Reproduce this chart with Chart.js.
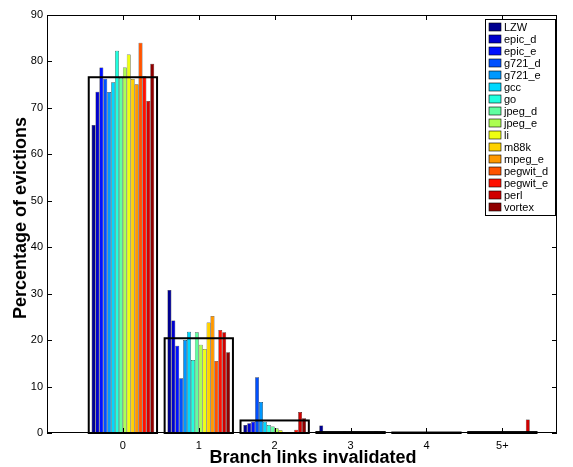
<!DOCTYPE html>
<html>
<head>
<meta charset="utf-8">
<title>Branch links invalidated</title>
<script src="https://cdn.jsdelivr.net/npm/chart.js@4.4.0/dist/chart.umd.min.js"></script>
<style>
    html, body { margin: 0; padding: 0; background: #fff; }
    #wrap { width: 573px; height: 467px; }
</style>
</head>
<body>
<div id="wrap"><canvas id="chart"></canvas></div>
<script>
// --- DATOS ---
const categories = ['0', '1', '2', '3', '4', '5+'];
const benchmarks = ['LZW', 'epic_d', 'epic_e', 'g721_d', 'g721_e', 'gcc', 'go', 'jpeg_d',
                    'jpeg_e', 'li', 'm88k', 'mpeg_e', 'pegwit_d', 'pegwit_e', 'perl', 'vortex'];

// porcentaje de evictions por numero de links invalidados (0, 1, 2, 3, 4, 5+)
const LZW      = [66.3, 30.8,  1.7, 1.6, 0.0, 0.0];
const epic_d   = [73.5, 24.2,  2.1, 0.1, 0.0, 0.0];
const epic_e   = [78.7, 18.8,  2.4, 0.1, 0.0, 0.0];
const g721_d   = [76.3, 11.8, 12.0, 0.0, 0.0, 0.0];
const g721_e   = [73.4, 20.0,  6.7, 0.0, 0.0, 0.0];
const gcc      = [75.5, 21.8,  2.4, 0.2, 0.1, 0.1];
const go       = [82.3, 15.7,  1.7, 0.3, 0.1, 0.0];
const jpeg_d   = [76.5, 21.7,  1.4, 0.0, 0.0, 0.0];
const jpeg_e   = [78.7, 19.0,  1.0, 0.0, 0.0, 0.0];
const li       = [81.5, 18.1,  0.6, 0.0, 0.0, 0.0];
const m88k     = [76.2, 23.8,  0.2, 0.0, 0.0, 0.0];
const mpeg_e   = [75.1, 25.2,  0.1, 0.0, 0.0, 0.0];
const pegwit_d = [84.0, 15.5,  0.2, 0.1, 0.0, 0.0];
const pegwit_e = [76.8, 22.2,  0.7, 0.1, 0.1, 0.1];
const perl     = [71.5, 21.7,  4.5, 0.3, 0.1, 2.9];
const vortex   = [79.5, 17.4,  3.2, 0.0, 0.0, 0.0];
// media (caja negra)
const average  = [76.6, 20.4,  2.7, 0.2, 0.1, 0.2];

const seriesValues = [LZW, epic_d, epic_e, g721_d, g721_e, gcc, go, jpeg_d,
                      jpeg_e, li, m88k, mpeg_e, pegwit_d, pegwit_e, perl, vortex];

const yTicks = [0, 10, 20, 30, 40, 50, 60, 70, 80, 90];

// colores tipo "jet"
const colors = ['#00008f', '#0000cc', '#0010ff', '#0050ff', '#0098ff', '#00d8ff', '#20ffdf', '#60ffa0',
                '#acff52', '#efff10', '#ffd200', '#ff9800', '#ff5400', '#ff1000', '#d00000', '#8f0000'];

const FONT = '"Liberation Sans", Arial, Helvetica, sans-serif';

const toPoints = arr => arr.map((v, i) => ({ x: i, y: v }));

// la caja de la media: sin relleno, el contorno se pinta en el plugin
const datasets = [{
    label: 'average',
    data: toPoints(average),
    grouped: false,
    backgroundColor: 'rgba(0,0,0,0)',
    borderWidth: 0,
    categoryPercentage: 1,
    barPercentage: 0.9
}].concat(seriesValues.map((vals, i) => ({
    label: benchmarks[i],
    data: toPoints(vals),
    backgroundColor: colors[i],
    borderColor: '#000',
    borderWidth: 0.5,
    categoryPercentage: 0.825,
    barPercentage: 1
})));

// marco, ticks hacia dentro, cajas de media, leyenda y titulos de ejes
const framePlugin = {
    id: 'frame',
    afterDatasetsDraw(chart) {
        const { ctx, chartArea: a, scales: { x, y } } = chart;
        ctx.save();

        // contorno de la media (centrado en el borde, como en matlab)
        ctx.strokeStyle = '#000';
        ctx.lineWidth = 2;
        chart.getDatasetMeta(0).data.forEach(bar => {
            const { x: bx, y: by, base, width } = bar.getProps(['x', 'y', 'base', 'width'], true);
            ctx.strokeRect(bx - width / 2, by, width, base - by);
        });

        ctx.lineWidth = 1;
        ctx.strokeRect(a.left + 0.5, a.top + 0.5, a.right - a.left - 1, a.bottom - a.top - 1);

        const tl = 5;
        ctx.beginPath();
        yTicks.forEach(t => {
            const py = Math.round(y.getPixelForValue(t)) + 0.5;
            ctx.moveTo(a.left, py); ctx.lineTo(a.left + tl, py);
            ctx.moveTo(a.right, py); ctx.lineTo(a.right - tl, py);
        });
        categories.forEach((c, i) => {
            const px = Math.round(x.getPixelForValue(i)) + 0.5;
            ctx.moveTo(px, a.bottom); ctx.lineTo(px, a.bottom - tl);
            ctx.moveTo(px, a.top); ctx.lineTo(px, a.top + tl);
        });
        ctx.stroke();

        // leyenda
        const lx = 485, ly = 19, lw = 70, rowH = 12;
        const lh = benchmarks.length * rowH + 4;
        ctx.fillStyle = '#fff';
        ctx.fillRect(lx, ly, lw, lh);
        ctx.strokeRect(lx + 0.5, ly + 0.5, lw, lh);
        ctx.font = '11px ' + FONT;
        ctx.textBaseline = 'middle';
        benchmarks.forEach((name, i) => {
            const cy = ly + 8 + i * rowH;
            ctx.fillStyle = colors[i];
            ctx.fillRect(lx + 4, cy - 4, 12, 8);
            ctx.lineWidth = 0.6;
            ctx.strokeRect(lx + 4, cy - 4, 12, 8);
            ctx.fillStyle = '#000';
            ctx.fillText(name, lx + 19, cy + 0.5);
        });
        ctx.restore();
    },
    afterDraw(chart) {
        const { ctx } = chart;
        ctx.save();
        ctx.fillStyle = '#000';
        ctx.font = 'bold 18px ' + FONT;
        ctx.textAlign = 'center';
        ctx.textBaseline = 'middle';
        ctx.fillText('Branch links invalidated', 313, 458);
        ctx.translate(21, 218);
        ctx.rotate(-Math.PI / 2);
        ctx.fillText('Percentage of evictions', 0, 0);
        ctx.restore();
    }
};

document.addEventListener('DOMContentLoaded', () => {
    const ctx = document.getElementById('chart').getContext('2d');
    new Chart(ctx, {
        type: 'bar',
        data: { datasets },
        options: {
            responsive: true,
            maintainAspectRatio: false,
            animation: false,
            layout: { padding: { left: 0, top: 15, right: 16, bottom: 0 } },
            plugins: { legend: { display: false }, tooltip: { enabled: false } },
            scales: {
                x: {
                    type: 'linear',
                    offset: false,
                    min: -1,
                    max: 5.72,
                    grid: { display: false, drawTicks: false, offset: false },
                    border: { display: false },
                    afterBuildTicks: scale => { scale.ticks = categories.map((c, i) => ({ value: i })); },
                    afterFit: scale => { scale.height = 34; },
                    ticks: {
                        callback: v => categories[v] ?? '',
                        autoSkip: false,
                        maxRotation: 0,
                        padding: 6,
                        color: '#000',
                        font: { family: FONT, size: 11 }
                    }
                },
                y: {
                    min: 0,
                    max: 90,
                    grid: { display: false, drawTicks: false },
                    border: { display: false },
                    afterFit: scale => { scale.width = 47; },
                    ticks: {
                        stepSize: 10,
                        padding: 4,
                        color: '#000',
                        font: { family: FONT, size: 11 }
                    }
                }
            }
        },
        plugins: [framePlugin]
    });
});
</script>
</body>
</html>
